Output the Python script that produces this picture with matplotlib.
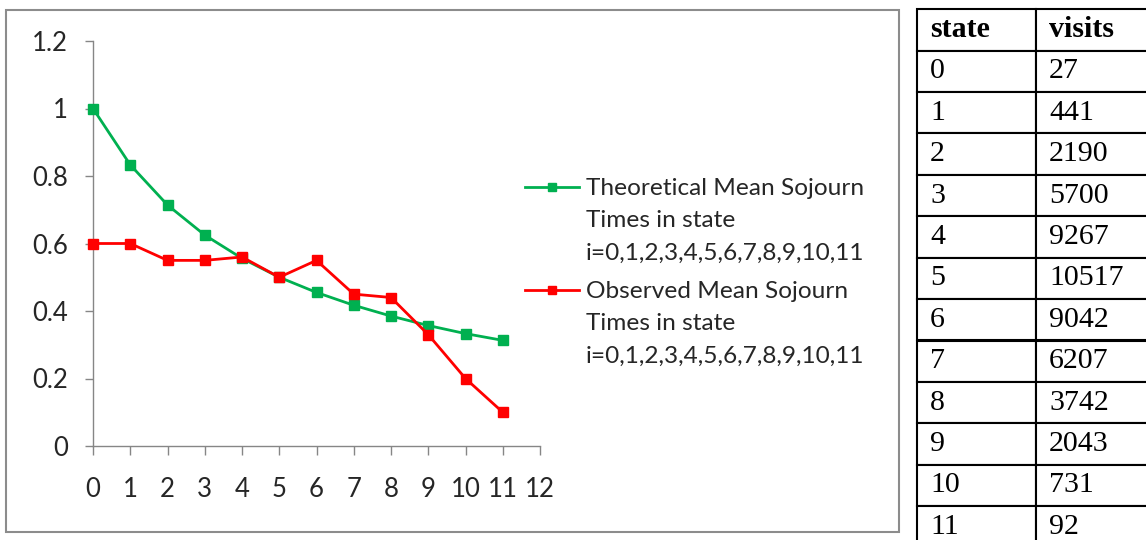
import matplotlib
matplotlib.use("Agg")
import matplotlib.pyplot as plt
from matplotlib.lines import Line2D
from matplotlib.patches import Rectangle

# ---- data ----
states = [0, 1, 2, 3, 4, 5, 6, 7, 8, 9, 10, 11]
theoretical = [1.0, 0.833, 0.714, 0.625, 0.556, 0.5, 0.455, 0.417, 0.385, 0.357, 0.333, 0.313]
observed = [0.6, 0.6, 0.55, 0.55, 0.56, 0.5, 0.55, 0.45, 0.44, 0.33, 0.2, 0.1]
visits = [27, 441, 2190, 5700, 9267, 10517, 9042, 6207, 3742, 2043, 731, 92]
x_ticks = list(range(0, 13))
y_ticks = [0, 0.2, 0.4, 0.6, 0.8, 1.0, 1.2]
y_tick_labels = ["0", "0.2", "0.4", "0.6", "0.8", "1", "1.2"]
label_theo = ["Theoretical Mean Sojourn", "Times in state", "i=0,1,2,3,4,5,6,7,8,9,10,11"]
label_obs = ["Observed Mean Sojourn", "Times in state", "i=0,1,2,3,4,5,6,7,8,9,10,11"]
table_header = ["state", "visits"]

W, H = 1146, 540
fig = plt.figure(figsize=(W / 100, H / 100), dpi=100)
fig.patch.set_facecolor("white")

FONT = "Lato"
FS = 17.6
TFS = 18.5
GREEN = "#00B050"
RED = "#FF0000"
AXC = "#868686"
TXT = "#262626"

def fx(px):
    return px / W

def fy(py):
    return 1 - py / H

# chart border
fig.patches.append(Rectangle((fx(6), fy(532)), fx(899) - fx(6), fy(10) - fy(532),
                             transform=fig.transFigure, fill=False,
                             edgecolor="#8c8c8c", linewidth=1.5, zorder=0))

ax = fig.add_axes([fx(93), fy(446), fx(540) - fx(93), fy(41) - fy(446)])
ax.set_xlim(0, 12)
ax.set_ylim(0, 1.2)
ax.set_facecolor("none")

l1, = ax.plot(states, theoretical, color=GREEN, lw=2, marker="s", ms=7,
              clip_on=False, zorder=3)
l2, = ax.plot(states, observed, color=RED, lw=2, marker="s", ms=7,
              clip_on=False, zorder=4)

for s in ["top", "right"]:
    ax.spines[s].set_visible(False)
for s in ["left", "bottom"]:
    ax.spines[s].set_color(AXC)
    ax.spines[s].set_linewidth(1.0)

ax.set_xticks(x_ticks)
ax.set_xticklabels([str(v) for v in x_ticks], fontfamily=FONT, fontsize=TFS, color=TXT)
ax.set_yticks(y_ticks)
ax.set_yticklabels(y_tick_labels, fontfamily=FONT, fontsize=TFS, color=TXT)
ax.tick_params(axis="y", direction="out", length=6, width=1, color=AXC, pad=12)
ax.tick_params(axis="x", direction="out", length=6.5, width=1, color=AXC, pad=16)

blank = Line2D([], [], linestyle="none")

def make_legend(handle, labels, top_px):
    leg = fig.legend([handle, blank, blank], labels, loc="upper left",
                     bbox_to_anchor=(fx(525), fy(top_px)),
                     bbox_transform=fig.transFigure, frameon=False,
                     borderpad=0, borderaxespad=0, handlelength=2.2,
                     handletextpad=0.28, labelspacing=0.46,
                     prop={"family": FONT, "size": FS}, markerscale=0.85)
    for t in leg.get_texts():
        t.set_color(TXT)
    return leg

leg1 = make_legend(l1, label_theo, 178)
leg2 = make_legend(l2, label_obs, 281)

# ---- table ----
tax = fig.add_axes([fx(917), fy(547.5), fx(1155) - fx(917), fy(9.3) - fy(547.5)])
tax.axis("off")
cell_text = [[str(s), str(v)] for s, v in zip(states, visits)]
tbl = tax.table(cellText=cell_text, colLabels=table_header, cellLoc="left",
                colLoc="left", bbox=[0, 0, 1, 1])
tbl.auto_set_font_size(False)
for (r, c), cell in tbl.get_celld().items():
    cell.set_edgecolor("black")
    cell.set_linewidth(1.5)
    cell.PAD = 0.11
    t = cell.get_text()
    t.set_fontfamily("Liberation Serif")
    t.set_fontsize(21.5)
    t.set_color("black")
    if r == 0:
        t.set_fontweight("bold")

fig.savefig("out.png", dpi=100)
